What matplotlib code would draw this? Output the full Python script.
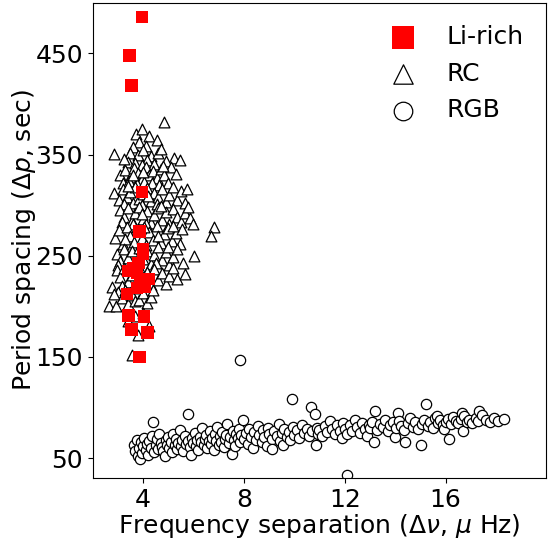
import matplotlib
matplotlib.use("Agg")
import matplotlib.pyplot as plt

# Li-rich giants
li_x = [3.95, 3.46, 3.55, 3.95, 3.86, 3.99, 4.01, 3.82, 3.62, 3.42, 3.75, 4.21, 3.88, 4.08,
        3.75, 3.36, 3.42, 4.05, 3.55, 4.17, 3.86]
li_y = [486, 448, 418, 313, 274, 256, 252, 243, 238, 235, 233, 227, 223, 219,
        218, 212, 191, 190, 177, 174, 150]

# Red clump
rc_x = [3.71, 3.97, 4.25, 4.55, 4.83, 3.85, 4.10, 3.60,
        2.85, 5.23, 5.47, 3.50, 3.80, 4.00, 4.30, 4.60, 3.40, 3.70, 4.15, 4.45, 4.90, 3.95, 3.25, 4.70,
        3.10, 3.30, 3.50, 3.65, 3.80, 3.95, 4.10, 4.25, 4.40, 4.55, 4.70, 4.85, 5.00, 5.10, 3.20, 3.45,
        3.75, 4.05, 4.35, 4.65, 5.30, 3.60, 4.00, 4.80,
        2.86, 3.05, 3.20, 3.35, 3.50, 3.60, 3.70, 3.85, 4.00, 4.15, 4.30, 4.45, 4.60, 4.75, 4.90, 5.05,
        5.20, 5.35, 5.50, 5.75, 3.25, 3.95, 4.55, 5.65, 4.20, 3.40,
        3.10, 3.25, 3.40, 3.55, 3.70, 3.85, 4.00, 4.15, 4.30, 4.45, 4.60, 4.75, 4.90, 5.05, 5.20, 5.35,
        5.50, 5.65, 5.85, 5.97, 3.15, 3.60, 4.10, 4.70, 5.80, 3.95,
        2.89, 3.05, 3.20, 3.35, 3.50, 3.65, 3.80, 3.95, 4.10, 4.25, 4.40, 4.55, 4.70, 4.85, 5.00, 5.15,
        5.30, 5.45, 5.55, 6.82, 6.69, 3.30, 4.05, 4.60, 5.20,
        2.95, 3.10, 3.25, 3.40, 3.55, 3.70, 3.85, 4.00, 4.15, 4.30, 4.45, 4.60, 4.75, 4.90, 5.05, 5.20,
        5.35, 5.60, 6.04, 3.00, 4.50, 5.00,
        2.95, 3.10, 3.25, 3.40, 3.55, 3.70, 3.85, 4.00, 4.15, 4.30, 4.45, 4.60, 4.75, 4.90, 5.05, 5.20,
        5.35, 5.67, 2.76, 3.15, 4.10,
        2.65, 2.93, 3.00, 3.15, 3.30, 3.42, 3.55, 3.70, 3.86, 4.00, 4.15, 4.30, 2.85, 3.60, 4.40,
        3.82, 4.25, 3.58, 3.70, 4.00, 3.40]
rc_y = [370, 375, 368, 364, 382, 362, 358, 357,
        351, 347, 345, 352, 350, 354, 349, 352, 343, 342, 345, 341, 344, 340, 346, 355,
        330, 335, 328, 337, 332, 326, 338, 330, 334, 327, 336, 330, 322, 338, 322, 324,
        321, 323, 322, 320, 331, 330, 333, 339,
        312, 305, 316, 308, 313, 302, 318, 306, 311, 317, 304, 312, 308, 316, 303, 310,
        318, 305, 314, 316, 301, 300, 301, 302, 309, 319,
        295, 288, 297, 284, 292, 298, 286, 294, 282, 290, 297, 285, 293, 281, 296, 288,
        283, 292, 287, 281, 283, 281, 281, 299, 298, 291,
        268, 275, 262, 278, 270, 264, 276, 268, 261, 273, 266, 279, 263, 271, 277, 265,
        272, 262, 276, 278, 270, 267, 278, 270, 279,
        252, 245, 257, 248, 255, 243, 258, 247, 255, 242, 251, 259, 246, 254, 241, 249,
        257, 243, 250, 241, 243, 259,
        236, 229, 238, 224, 231, 222, 239, 228, 234, 221, 237, 226, 233, 222, 230, 238,
        227, 232, 219, 220, 222,
        200, 200, 214, 208, 216, 202, 211, 205, 206, 213, 203, 209, 212, 218, 216,
        172, 181, 152, 190, 193, 186]

# Red giant branch
rgb_x = [3.65, 3.70, 3.75, 3.80, 3.85, 3.90, 3.88, 3.95, 4.00, 4.05, 4.10, 4.15, 4.20, 4.25, 4.30,
         4.39, 4.35, 4.45, 4.50, 4.55, 4.60, 4.65, 4.70, 4.75, 4.80, 4.87, 4.90, 4.95, 5.00,
         5.05, 5.10, 5.15, 5.20, 5.25, 5.30, 5.35, 5.40, 5.45, 5.50, 5.55, 5.60, 5.65, 5.70, 5.77,
         5.80, 5.85, 5.90, 5.95, 6.00,
         6.05, 6.10, 6.15, 6.20, 6.25, 6.30, 6.35, 6.40, 6.45, 6.50, 6.55, 6.60, 6.65, 6.70, 6.75,
         6.80, 6.85, 6.90, 6.95, 7.00,
         7.05, 7.10, 7.15, 7.20, 7.25, 7.30, 7.35, 7.40, 7.45, 7.52, 7.55, 7.60, 7.65, 7.70, 7.75,
         7.80, 7.85, 7.85, 7.90, 7.95,
         8.00, 8.10, 8.15, 8.20, 8.30, 8.35, 8.40, 8.50, 8.55, 8.60, 8.70, 8.75, 8.80, 8.90, 8.95,
         9.00, 9.10, 9.13, 9.20, 9.30, 9.40, 9.45, 9.50, 9.57, 9.60, 9.70, 9.80, 9.85, 9.90, 9.95,
         10.0, 10.1, 10.2, 10.3, 10.4, 10.5, 10.6, 10.65, 10.7, 10.82, 10.86, 10.9, 10.95,
         11.0, 11.1, 11.2, 11.3, 11.4, 11.5, 11.6, 11.7, 11.8, 11.9, 11.95,
         12.0, 12.1, 12.1, 12.2, 12.3, 12.4, 12.5, 12.6, 12.7, 12.8, 12.9, 12.95,
         13.0, 13.1, 13.18, 13.2, 13.3, 13.4, 13.5, 13.6, 13.7, 13.8, 13.9, 14.0,
         14.05, 14.12, 14.15, 14.25, 14.35, 14.4, 14.5, 14.6, 14.7, 14.8, 14.9, 15.01,
         15.05, 15.15, 15.22, 15.3, 15.4, 15.5, 15.6, 15.65, 15.7, 15.8, 15.9, 15.95,
         16.0, 16.1, 16.15, 16.2, 16.3, 16.4, 16.5, 16.6, 16.64, 16.7, 16.75, 16.85, 16.95,
         17.05, 17.2, 17.3, 17.34, 17.45, 17.6, 17.75, 17.93, 18.1, 18.33]
rgb_y = [63, 57, 68, 52, 60, 66, 49, 55, 62, 70, 58, 64, 53, 67, 60,
         86, 72, 56, 63, 69, 59, 74, 65, 61, 57, 52, 68, 63, 71,
         60, 66, 56, 74, 63, 69, 59, 65, 78, 62, 68, 57, 72, 64, 94,
         67, 61, 53, 70, 65,
         75, 62, 68, 58, 71, 66, 80, 63, 69, 73, 60, 67, 77, 64, 70,
         58, 74, 67, 81, 63,
         72, 66, 76, 61, 69, 73, 84, 65, 71, 54, 77, 68, 62, 74, 70,
         79, 147, 66, 73, 88,
         69, 75, 64, 79, 71, 60, 76, 68, 82, 73, 66, 78, 71, 62, 80,
         74, 69, 59, 77, 72, 84, 67, 75, 63, 79, 71, 76, 68, 108, 81,
         73, 78, 70, 83, 75, 79, 72, 101, 77, 94, 63, 80, 74,
         78, 72, 82, 76, 87, 79, 74, 83, 77, 70, 85,
         79, 33, 74, 83, 77, 88, 81, 75, 85, 79, 72, 83,
         80, 86, 66, 97, 78, 84, 81, 88, 77, 83, 86, 71,
         80, 95, 87, 82, 78, 66, 85, 90, 81, 86, 79, 63,
         84, 88, 104, 82, 86, 80, 90, 92, 85, 88, 83, 79,
         86, 89, 69, 84, 91, 87, 85, 89, 95, 77, 92, 86, 88,
         85, 90, 87, 97, 93, 88, 86, 90, 87, 89]

x_ticks = [4, 8, 12, 16]
y_ticks = [50, 150, 250, 350, 450]

fig = plt.figure(figsize=(5.48, 5.40), dpi=100)
ax = fig.add_axes([0.169, 0.114, 0.828, 0.881])

ax.scatter(rgb_x, rgb_y, marker='o', s=55, facecolors='white', edgecolors='black',
           linewidths=0.9, label='RGB', zorder=2)
ax.scatter(rc_x, rc_y, marker='^', s=60, facecolors='white', edgecolors='black',
           linewidths=0.9, label='RC', zorder=3)
ax.scatter(li_x, li_y, marker='s', s=80, color='red', edgecolors='none',
           label='Li-rich', zorder=4)

ax.set_xlim(2, 20)
ax.set_ylim(30, 500)
ax.set_xticks(x_ticks)
ax.set_yticks(y_ticks)
ax.tick_params(labelsize=18)
ax.set_xlabel(r'Frequency separation ($\Delta\nu$, $\mu$ Hz)', fontsize=18, labelpad=0)
ax.set_ylabel(r'Period spacing ($\Delta p$, sec)', fontsize=18, labelpad=-2)

h, l = ax.get_legend_handles_labels()
order = [2, 1, 0]
ax.legend([h[i] for i in order], [l[i] for i in order], loc='upper right',
          frameon=False, fontsize=18, markerscale=1.8, handletextpad=0.75,
          borderaxespad=0.5)

fig.savefig('out.png', dpi=100)
